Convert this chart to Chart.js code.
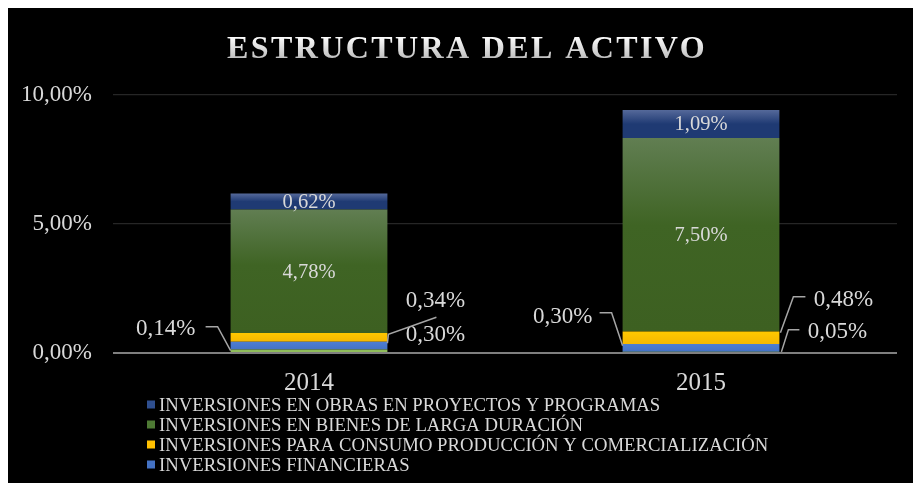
<!DOCTYPE html>
<html>
<head>
<meta charset="utf-8">
<script src="https://cdn.jsdelivr.net/npm/chart.js@4.4.1/dist/chart.umd.min.js"></script>
<style>
  html, body { margin: 0; padding: 0; background: #ffffff; width: 913px; height: 483px; overflow: hidden; }
  #wrap { position: absolute; left: 8px; top: 8px; width: 905px; height: 475px; background: #000000; }
  canvas { display: block; }
</style>
</head>
<body>
<div id="wrap"><canvas id="c" width="905" height="475"></canvas></div>
<script>
// ---- data ----
const titleText = 'ESTRUCTURA DEL ACTIVO';
const categories = ['2014', '2015'];
const otrosActivos = [0.14, 0.05];
const invFinancieras = [0.30, 0.30];
const invConsumo = [0.34, 0.48];
const invBienes = [4.78, 7.50];
const invObras = [0.62, 1.09];
const yTickValues = [0, 5, 10];
const labelFinancieras = 'INVERSIONES FINANCIERAS';
const labelConsumo = 'INVERSIONES PARA CONSUMO PRODUCCIÓN Y COMERCIALIZACIÓN';
const labelBienes = 'INVERSIONES EN BIENES DE LARGA DURACIÓN';
const labelObras = 'INVERSIONES EN OBRAS EN PROYECTOS Y PROGRAMAS';

// ---- styles ----
const SERIF = '"Liberation Serif", "Times New Roman", serif';
const TEXT = '#d9d9d9';
const fmt = v => v.toFixed(2).replace('.', ',') + '%';

function segRange(chart, ds, i) {
  let lo = 0;
  for (let k = 0; k < ds; k++) lo += chart.data.datasets[k].data[i];
  const hi = lo + chart.data.datasets[ds].data[i];
  const y = chart.scales.y;
  return [y.getPixelForValue(hi), y.getPixelForValue(lo)];
}
function gradFill(stops, flat) {
  return (ctx) => {
    const chart = ctx.chart;
    if (ctx.type !== 'data' || !chart.chartArea || !chart.scales.y) return flat;
    const [t, b] = segRange(chart, ctx.datasetIndex, ctx.dataIndex);
    const g = chart.ctx.createLinearGradient(0, t, 0, Math.max(b, t + 1));
    stops.forEach(s => g.addColorStop(s[0], s[1]));
    return g;
  };
}

// outside labels with leader lines (offsets relative to bar edge and segment middle)
const outsideLabels = [
  { ds: 0, i: 0, side: 'left',  tx: -65, ty: -22, pts: [[-25, -24], [-13, -24], [0, 0]] },
  { ds: 1, i: 0, side: 'right', tx: 48,  ty: -11, pts: [] },
  { ds: 2, i: 0, side: 'right', tx: 48,  ty: -36, pts: [[0, 6], [1, -3], [49, -20]] },
  { ds: 1, i: 1, side: 'left',  tx: -60, ty: -31, pts: [[-23, -35], [-11, -35], [0, -2]] },
  { ds: 2, i: 1, side: 'right', tx: 64,  ty: -38, pts: [[26, -41], [14, -41], [1, -5]] },
  { ds: 0, i: 1, side: 'right', tx: 58,  ty: -20, pts: [[20, -22], [9, -22], [2, 0]] }
];
const insideDatasets = [3, 4];

const decorPlugin = {
  id: 'decor',
  afterDatasetsDraw(chart) {
    const c = chart.ctx;
    c.save();
    c.fillStyle = TEXT;
    c.textAlign = 'center';
    c.textBaseline = 'middle';
    c.font = '20.5px ' + SERIF;
    insideDatasets.forEach(ds => {
      const meta = chart.getDatasetMeta(ds);
      meta.data.forEach((el, i) => {
        const v = chart.data.datasets[ds].data[i];
        c.fillText(fmt(v), el.x, (el.y + el.base) / 2 + 1);
      });
    });
    c.font = '23px ' + SERIF;
    outsideLabels.forEach(L => {
      const el = chart.getDatasetMeta(L.ds).data[L.i];
      const half = el.width / 2;
      const ex = L.side === 'left' ? el.x - half : el.x + half;
      const my = (el.y + el.base) / 2;
      if (L.pts.length) {
        c.strokeStyle = '#a6a6a6';
        c.lineWidth = 1.5;
        c.beginPath();
        L.pts.forEach((p, k) => {
          const px = ex + p[0], py = my + p[1];
          if (k === 0) c.moveTo(px, py); else c.lineTo(px, py);
        });
        c.stroke();
      }
      c.fillText(fmt(chart.data.datasets[L.ds].data[L.i]), ex + L.tx, my + L.ty);
    });
    c.restore();
  },
  afterDraw(chart) {
    const c = chart.ctx;
    c.save();
    c.font = 'bold 32px ' + SERIF;
    c.letterSpacing = '2.4px';
    c.textAlign = 'center';
    c.textBaseline = 'alphabetic';
    const g = c.createLinearGradient(0, 28, 0, 51);
    g.addColorStop(0, '#ffffff');
    g.addColorStop(1, '#bdbdbd');
    c.fillStyle = g;
    c.fillText(titleText, 459, 50);
    c.letterSpacing = '0px';
    const items = [4, 3, 2, 1];
    c.font = '18.7px ' + SERIF;
    c.textAlign = 'left';
    c.textBaseline = 'middle';
    items.forEach((ds, k) => {
      const y = 397 + k * 20;
      const d = chart.data.datasets[ds];
      c.fillStyle = d.legendColor;
      c.fillRect(139, y - 4.5, 8, 8);
      c.fillStyle = TEXT;
      c.fillText(d.label, 151, y + 1);
    });
    c.restore();
  }
};

new Chart(document.getElementById('c'), {
  type: 'bar',
  data: {
    labels: categories,
    datasets: [
      { label: '', data: otrosActivos, backgroundColor: '#8fbc5a', legendColor: '#8fbc5a' },
      { label: labelFinancieras, data: invFinancieras,
        backgroundColor: gradFill([[0, '#4d7ed2'], [1, '#4472c4']], '#4472c4'), legendColor: '#4472c4' },
      { label: labelConsumo, data: invConsumo,
        backgroundColor: gradFill([[0, '#ffc800'], [1, '#f5b800']], '#ffc000'), legendColor: '#ffc000' },
      { label: labelBienes, data: invBienes,
        backgroundColor: gradFill([[0, '#617e52'], [0.45, '#3f6424'], [1, '#3d6021']], '#3f6424'), legendColor: '#4e7a34' },
      { label: labelObras, data: invObras,
        backgroundColor: gradFill([[0, '#55699a'], [0.5, '#1f3a73'], [1, '#1f3a73']], '#1f3a73'), legendColor: '#2f4f8f' }
    ].map(d => Object.assign(d, { borderWidth: 0, categoryPercentage: 0.8, barPercentage: 0.5 }))
  },
  options: {
    responsive: false,
    animation: false,
    devicePixelRatio: 1,
    layout: { padding: { left: 0, right: 16, top: 87, bottom: 85 } },
    plugins: { legend: { display: false }, title: { display: false }, tooltip: { enabled: false } },
    scales: {
      x: {
        stacked: true,
        grid: { display: false, drawTicks: false },
        border: { display: false },
        ticks: { color: TEXT, font: { family: SERIF, size: 25 }, padding: 15 },
        afterFit(s) { s.height = 45; }
      },
      y: {
        stacked: true,
        min: 0, max: 10,
        afterBuildTicks(s) { s.ticks = yTickValues.map(v => ({ value: v })); },
        grid: {
          drawTicks: false,
          color: c => (c.tick && c.tick.value === 0) ? '#7f7f7f' : '#262626',
          lineWidth: c => (c.tick && c.tick.value === 0) ? 2 : 1.3
        },
        border: { display: false },
        ticks: { color: TEXT, font: { family: SERIF, size: 23 }, padding: 21, callback: v => fmt(v) },
        afterFit(s) { s.width = 105; }
      }
    }
  },
  plugins: [decorPlugin]
});
</script>
</body>
</html>
